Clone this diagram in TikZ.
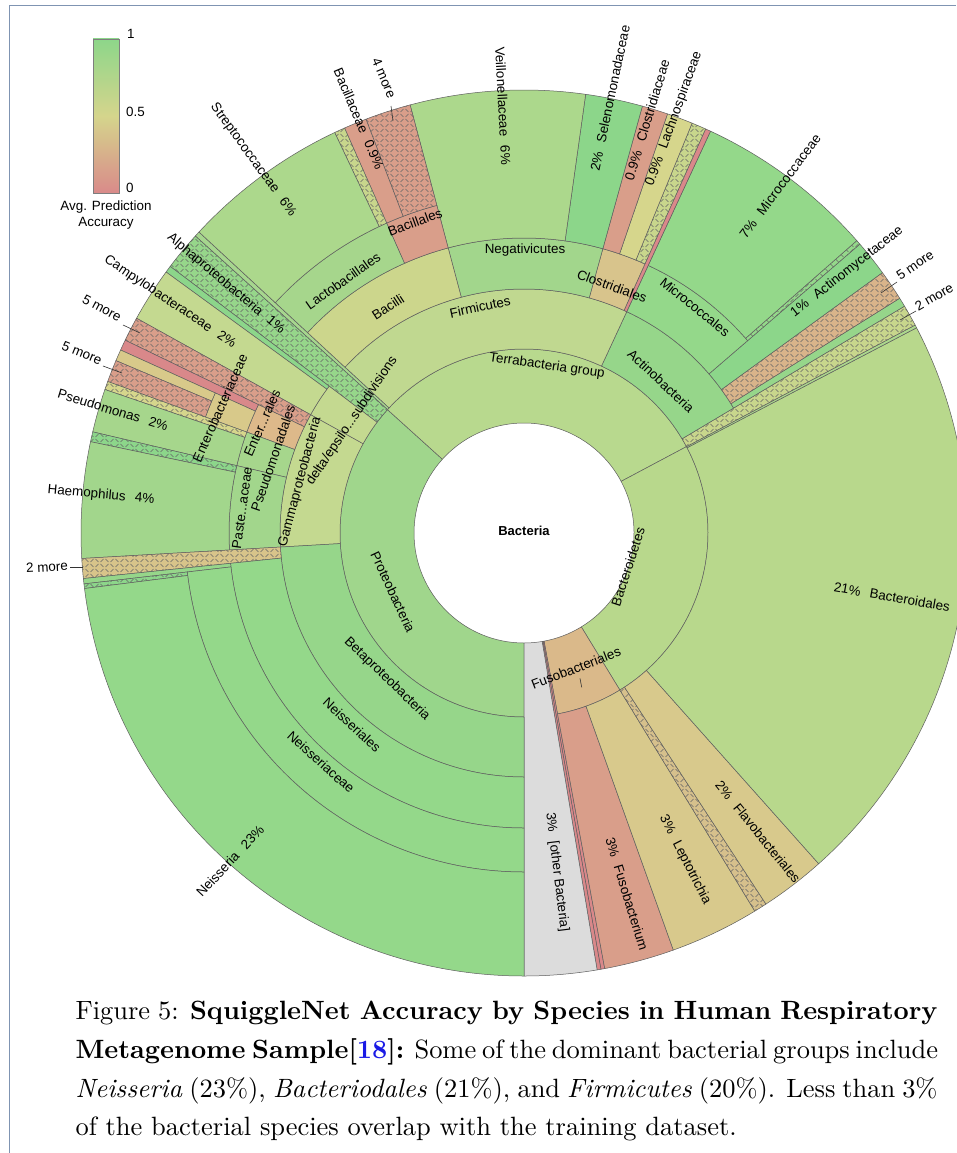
\documentclass[tikz,border=0pt]{standalone}
\usepackage{fontspec}
\newfontfamily\kfont{Liberation Sans}
\usetikzlibrary{patterns}
\definecolor{lc}{HTML}{5E5E5E}
\definecolor{hc}{HTML}{666666}
\definecolor{framec}{HTML}{7F94B2}
\definecolor{linkblue}{HTML}{1A1AE6}
\definecolor{cProt}{HTML}{A0D68C}
\definecolor{cTerra}{HTML}{B8D98E}
\definecolor{cBactd}{HTML}{B8D88C}
\definecolor{cFusoP}{HTML}{DAB98A}
\definecolor{cRed}{HTML}{D9888A}
\definecolor{cGrey}{HTML}{DCDCDC}
\definecolor{cSalmon}{HTML}{D99E8A}
\definecolor{cTan}{HTML}{D8C98C}
\definecolor{cTanH}{HTML}{D6C08C}
\definecolor{cYG}{HTML}{C8D68C}
\definecolor{cGreen}{HTML}{94D88A}
\definecolor{cGreenB}{HTML}{8CD68A}
\definecolor{cActb}{HTML}{96D68A}
\definecolor{cFirm}{HTML}{C0D890}
\definecolor{cLight}{HTML}{A6D68E}
\definecolor{cOrangeH}{HTML}{D9B48A}
\definecolor{cClos}{HTML}{D8C48C}
\definecolor{cNeg}{HTML}{A2D68C}
\definecolor{cBacilli}{HTML}{CCD68C}
\definecolor{cYellow}{HTML}{D6D68C}
\definecolor{cVeil}{HTML}{ACD88C}
\definecolor{cDelta}{HTML}{C4D990}
\definecolor{cEntro}{HTML}{DDB98A}
\definecolor{cEntF}{HTML}{D8C98A}
\definecolor{cPse}{HTML}{A6D68C}
\definecolor{cTwoL}{HTML}{D8C48A}
\definecolor{lgG}{HTML}{8DD68A}
\definecolor{lgY}{HTML}{D5D58C}
\definecolor{lgR}{HTML}{D98A8A}
\pgfdeclarepatternformonly{khatch}{\pgfqpoint{-0.5pt}{-0.5pt}}{\pgfqpoint{10.5pt}{10.5pt}}{\pgfqpoint{10pt}{10pt}}{%
\pgfsetlinewidth{0.5pt}%
\pgfpathmoveto{\pgfqpoint{0.5pt}{1pt}}\pgfpathlineto{\pgfqpoint{3.5pt}{4pt}}%
\pgfpathmoveto{\pgfqpoint{5.5pt}{4pt}}\pgfpathlineto{\pgfqpoint{8.5pt}{1pt}}%
\pgfpathmoveto{\pgfqpoint{0.5pt}{9pt}}\pgfpathlineto{\pgfqpoint{3.5pt}{6pt}}%
\pgfpathmoveto{\pgfqpoint{5.5pt}{6pt}}\pgfpathlineto{\pgfqpoint{8.5pt}{9pt}}%
\pgfusepath{stroke}}
\newcommand{\kwedge}[5]{\path[#5] (#1:#3) -- (#1:#4) arc[start angle=#1,end angle=#2,radius=#4] -- (#2:#3) arc[start angle=#2,end angle=#1,radius=#3] -- cycle;}
\def\kra{110}\def\krb{184}\def\krc{244}\def\krd{295}\def\kre{339}\def\krf{443}
\tikzset{
 sunw/.style={draw=lc, line width=0.5pt, line join=round, fill=#1},
 sunh/.style={draw=lc, line width=0.5pt, line join=round, preaction={fill=#1}, pattern=khatch, pattern color=hc},
 lbl/.style={font=\kfont\fontsize{13.4}{15.5}\selectfont, inner sep=0pt, text=black},
 ldr/.style={draw=black!80, line width=0.6pt},
 capl/.style={anchor=base west, inner sep=0pt, scale=2.645, font=\fontsize{10}{12}\selectfont}
}
\begin{document}
\begin{tikzpicture}[x=1pt,y=1pt]
\useasboundingbox (0,0) rectangle (956,-1153);
\fill[white] (0,0) rectangle (956,-1153);
\draw[framec, line width=1pt] (9.5,-1153) -- (9.5,-5.5) -- (956,-5.5);
\begin{scope}[shift={(524,-533)}]
% ring 1
\kwedge{137.9}{270}{\kra}{\krb}{sunw=cProt}
\kwedge{28.0}{137.9}{\kra}{\krb}{sunw=cTerra}
\kwedge{-58.6}{28.0}{\kra}{\krb}{sunw=cBactd}
\kwedge{-79.5}{-58.6}{\kra}{\krb}{sunw=cFusoP}
\kwedge{-80.0}{-79.5}{\kra}{\krf}{sunw=cRed}
\kwedge{-80.5}{-80.0}{\kra}{\krf}{sunw=cRed}
\kwedge{-90}{-80.5}{\kra}{\krf}{sunw=cGrey}
% Fusobacteria
\kwedge{-79.5}{-70.3}{\krb}{\krf}{sunw=cSalmon}
\kwedge{-70.3}{-58.6}{\krb}{\krf}{sunw=cTan}
% Bacteroidetes
\kwedge{-58.6}{-56.9}{\krb}{\krf}{sunh=cTanH}
\kwedge{-56.9}{-48.3}{\krb}{\krf}{sunw=cTan}
\kwedge{-48.3}{27.6}{\krb}{\krf}{sunw=cBactd}
\kwedge{27.6}{28.0}{\krb}{\krf}{sunw=cVeil}
% Terrabacteria
\kwedge{28.0}{30.8}{\krb}{\krf}{sunh=cYG}
\kwedge{30.8}{65.1}{\krb}{\krc}{sunw=cActb}
\kwedge{65.1}{137.2}{\krb}{\krc}{sunw=cFirm}
\kwedge{137.2}{137.9}{\krb}{\krf}{sunw=cLight}
% Actinobacteria
\kwedge{30.8}{32.0}{\krc}{\krf}{sunw=cActb}
\kwedge{32.0}{36.0}{\krc}{\krf}{sunh=cOrangeH}
\kwedge{36.0}{40.7}{\krc}{\krf}{sunw=cGreenB}
\kwedge{40.7}{65.1}{\krc}{\krd}{sunw=cGreen}
\kwedge{40.7}{41.3}{\krd}{\krf}{sunh=cGreen}
\kwedge{41.3}{65.1}{\krd}{\krf}{sunw=cGreen}
% Firmicutes
\kwedge{65.1}{65.8}{\krc}{\krf}{sunw=cRed}
\kwedge{65.8}{74.5}{\krc}{\krd}{sunw=cClos}
\kwedge{74.5}{104.9}{\krc}{\krd}{sunw=cNeg}
\kwedge{104.9}{137.2}{\krc}{\krd}{sunw=cBacilli}
\kwedge{65.8}{67.7}{\krd}{\krf}{sunh=cYG}
\kwedge{67.7}{71.1}{\krd}{\krf}{sunw=cYellow}
\kwedge{71.1}{74.5}{\krd}{\krf}{sunw=cSalmon}
\kwedge{74.5}{82.0}{\krd}{\krf}{sunw=cGreenB}
\kwedge{82.0}{104.9}{\krd}{\krf}{sunw=cVeil}
\kwedge{104.9}{113.9}{\krd}{\kre}{sunw=cSalmon}
\kwedge{113.9}{137.2}{\krd}{\kre}{sunw=cPse}
\kwedge{104.9}{110.9}{\kre}{\krf}{sunh=cSalmon}
\kwedge{110.9}{113.9}{\kre}{\krf}{sunw=cSalmon}
\kwedge{113.9}{115.3}{\kre}{\krf}{sunh=cYG}
\kwedge{115.3}{137.2}{\kre}{\krf}{sunw=cVeil}
% Proteobacteria
\kwedge{137.9}{143.0}{\krb}{\krf}{sunh=cActb}
\kwedge{143.0}{151.0}{\krb}{\krc}{sunw=cDelta}
\kwedge{151.0}{183.3}{\krb}{\krc}{sunw=cDelta}
\kwedge{183.3}{270}{\krb}{\krc}{sunw=cActb}
\kwedge{143.0}{143.9}{\krc}{\krf}{sunw=cGreenB}
\kwedge{143.9}{151.0}{\krc}{\krf}{sunw=cDelta}
\kwedge{151.0}{154.2}{\krc}{\krf}{sunh=cSalmon}
\kwedge{154.2}{160.0}{\krc}{\krd}{sunw=cEntro}
\kwedge{160.0}{166.8}{\krc}{\krd}{sunw=cPse}
\kwedge{166.8}{183.3}{\krc}{\krd}{sunw=cNeg}
\kwedge{154.2}{155.6}{\krd}{\krf}{sunw=cRed}
\kwedge{155.6}{160.0}{\krd}{\kre}{sunw=cEntF}
\kwedge{155.6}{157.1}{\kre}{\krf}{sunw=cEntF}
\kwedge{157.1}{160.0}{\kre}{\krf}{sunh=cSalmon}
\kwedge{160.0}{161.1}{\krd}{\krf}{sunh=cYellow}
\kwedge{161.1}{166.8}{\krd}{\krf}{sunw=cPse}
\kwedge{166.8}{168.1}{\krd}{\krf}{sunh=cGreenB}
\kwedge{168.1}{183.3}{\krd}{\krf}{sunw=cNeg}
\kwedge{183.3}{185.9}{\krc}{\krf}{sunh=cTwoL}
\kwedge{185.9}{270}{\krc}{\krd}{sunw=cGreen}
\kwedge{185.9}{186.6}{\krd}{\krf}{sunw=cActb}
\kwedge{186.6}{270}{\krd}{\kre}{sunw=cGreen}
\kwedge{186.6}{187.2}{\kre}{\krf}{sunh=cGreenB}
\kwedge{187.2}{270}{\kre}{\krf}{sunw=cGreen}
\end{scope}
% legend
\shade[top color=lgG, bottom color=lgR, middle color=lgY] (93,-193) rectangle (119,-39);
\draw[lc!80, line width=0.6pt] (93,-193) rectangle (119,-39);
\node[lbl, anchor=west] (lg1) at (127,-34) {1};
\node[lbl, anchor=west] (lg05) at (126,-112) {0.5};
\node[lbl, anchor=west] (lg0) at (126,-188) {0};
\node[lbl] (lgt1) at (106,-207) {Avg. Prediction};
\node[lbl] (lgt2) at (106,-223) {Accuracy};
% internal labels
\node[lbl, font=\kfont\bfseries\fontsize{13}{15}\selectfont] (nBact) at (524,-531) {Bacteria};
\node[lbl, rotate=-8] (nTerra) at (547,-366) {Terrabacteria group};
\node[lbl, rotate=12] (nFirm) at (480,-307) {Firmicutes};
\node[lbl, rotate=33] (nBacilli) at (388,-307) {Bacilli};
\node[lbl, rotate=35] (nLacto) at (343,-281) {Lactobacillales};
\node[lbl, rotate=20] (nBacillales) at (415,-222) {Bacillales};
\node[lbl] (nNeg) at (525,-250) {Negativicutes};
\node[lbl, rotate=-20] (nClostr) at (612,-286) {Clostridiales};
\node[lbl, rotate=-39] (nMicrococcales) at (695,-307) {Micrococcales};
\node[lbl, rotate=-43] (nActinob) at (661,-381) {Actinobacteria};
\node[lbl, rotate=72] (nBacteroidetes) at (628,-567) {Bacteroidetes};
\node[lbl, rotate=21] (nFusobact) at (576,-668) {Fusobacteriales};
\coordinate (tickA) at (580,-678.3);
\coordinate (tickB) at (581.7,-687.3);
\draw[ldr] (tickA) -- (tickB);
\node[lbl, rotate=-65] (nProteo) at (393,-592) {Proteobacteria};
\node[lbl, rotate=-44] (nBeta) at (387,-679) {Betaproteobacteria};
\node[lbl, rotate=-43] (nNeisseriales) at (352,-725) {Neisseriales};
\node[lbl, rotate=-42] (nNeisseriaceae) at (321,-762) {Neisseriaceae};
\node[lbl, rotate=75] (nGamma) at (300,-482) {Gammaproteobacteria};
\node[lbl, rotate=56] (nDelta) at (352,-421) {delta/epsilo...subdivisions};
\node[lbl, rotate=71] (nPseudomonadales) at (273,-458) {Pseudomonadales};
\node[lbl, rotate=82] (nPaste) at (242,-508) {Paste...aceae};
\node[lbl, rotate=66] (nEnterRales) at (262,-423) {Enter...rales};
\node[lbl, rotate=66] (nEnterobact) at (220,-408) {Enterobacteriaceae};
% leaf labels
\node[lbl, rotate=-54] (lStrep) at (253,-160) {Streptococcaceae\hspace{0.7em}6\%};
\node[lbl, rotate=-67] (lBacil) at (359,-119) {Bacillaceae\hspace{0.7em}0.9\%};
\node[lbl, rotate=-67] (lFourMore) at (384,-78) {4 more};
\node[lbl, rotate=-87] (lVeil) at (503,-106) {Veillonellaceae\hspace{0.7em}6\%};
\node[lbl, rotate=78] (lSelen) at (610,-98) {2\%\hspace{0.7em}Selenomonadaceae};
\node[lbl, rotate=73] (lClostri) at (647,-120) {0.9\%\hspace{0.7em}Clostridiaceae};
\node[lbl, rotate=70] (lLachno) at (674,-119) {0.9\%\hspace{0.7em}Lachnospiraceae};
\node[lbl, rotate=53] (lMicroc) at (780,-186) {7\%\hspace{0.7em}Micrococcaceae};
\node[lbl, rotate=38] (lActino) at (847,-272) {1\%\hspace{0.7em}Actinomycetaceae};
\node[lbl, rotate=34] (lFiveR) at (915,-265) {5 more};
\node[lbl, rotate=30] (lTwoR) at (934,-297) {2 more};
\node[lbl, rotate=-10] (lBacteroidales) at (892,-597) {21\%\hspace{0.7em}Bacteroidales};
\node[lbl, rotate=-51] (lFlavo) at (758,-832) {2\%\hspace{0.7em}Flavobacteriales};
\node[lbl, rotate=-63] (lLepto) at (685,-860) {3\%\hspace{0.7em}Leptotrichia};
\node[lbl, rotate=-73] (lFuso) at (627,-894) {3\%\hspace{0.7em}Fusobacterium};
\node[lbl, rotate=-83] (lOther) at (557,-872) {3\%\hspace{0.7em}[other Bacteria]};
\node[lbl, rotate=47] (lNeis) at (230,-861) {Neisseria\hspace{0.7em}23\%};
\node[lbl, rotate=3] (lTwoL) at (47,-567) {2 more};
\node[lbl, rotate=-5] (lHaemo) at (101,-495) {Haemophilus\hspace{0.7em}4\%};
\node[lbl, rotate=-17] (lPseudo) at (113,-410) {Pseudomonas\hspace{0.7em}2\%};
\node[lbl, rotate=-22] (lFiveL2) at (82,-353) {5 more};
\node[lbl, rotate=-28] (lFiveL1) at (102,-308) {5 more};
\node[lbl, rotate=-34] (lCampy) at (170,-302) {Campylobacteraceae\hspace{0.7em}2\%};
\node[lbl, rotate=-40] (lAlpha) at (226,-284) {Alphaproteobacteria\hspace{0.7em}1\%};
% leaders
\coordinate (d4a) at (391,-106); \coordinate (d4b) at (393,-121);
\draw[ldr] (d4a) -- (d4b);
\coordinate (d5ra) at (897,-282); \coordinate (d5rb) at (881,-293);
\draw[ldr] (d5ra) -- (d5rb);
\coordinate (d2ra) at (916,-311); \coordinate (d2rb) at (900,-320);
\draw[ldr] (d2ra) -- (d2rb);
\coordinate (d5l1a) at (123,-325); \coordinate (d5l1b) at (140,-333);
\draw[ldr] (d5l1a) -- (d5l1b);
\coordinate (d5l2a) at (103,-366); \coordinate (d5l2b) at (122,-373);
\draw[ldr] (d5l2a) -- (d5l2b);
\coordinate (d2la) at (70,-567); \coordinate (d2lb) at (83,-567);
\draw[ldr] (d2la) -- (d2lb);
% caption
\node[capl] (cap1) at (75,-1019) {\makebox[325.9pt][s]{Figure 5: \textbf{SquiggleNet Accuracy by Species in Human Respiratory}}};
\node[capl] (cap2) at (75,-1058) {\makebox[325.9pt][s]{\textbf{Metagenome Sample[{\color{linkblue}18}]:} Some of the dominant bacterial groups include}};
\node[capl] (cap3) at (75,-1097) {\makebox[325.9pt][s]{\textit{Neisseria} (23\%), \textit{Bacteriodales} (21\%), and \textit{Firmicutes} (20\%). Less than 3\%}};
\node[capl] (cap4) at (75,-1135.5) {of the bacterial species overlap with the training dataset.};
\end{tikzpicture}
\end{document}
